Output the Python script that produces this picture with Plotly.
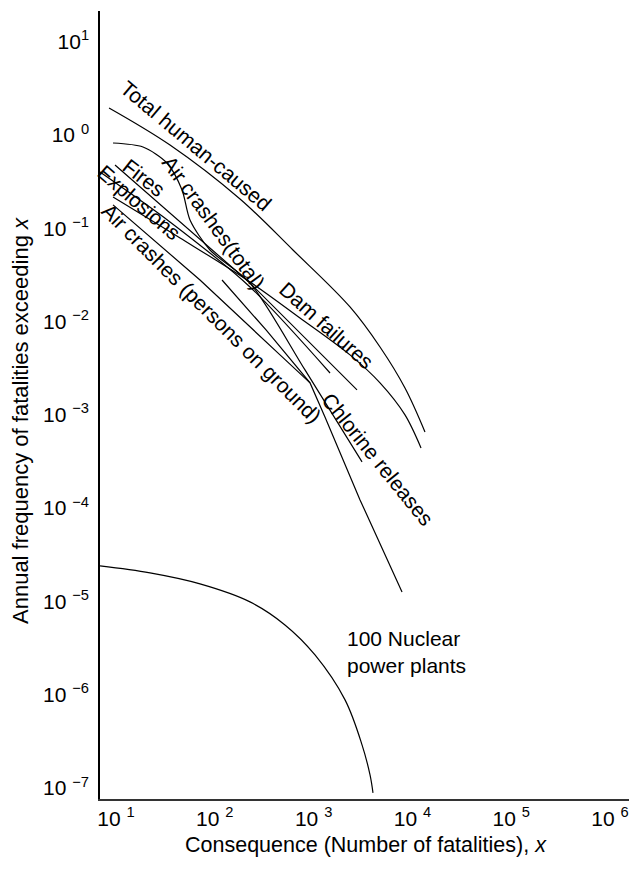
import plotly.graph_objects as go

# ---------------- data ----------------
total_x = [8.5, 35.2, 180, 618, 2335, 4700, 8410, 13400]
total_y = [1.95, 0.781, 0.206, 0.0585, 0.01435, 0.00534, 0.00194, 0.000656]

air_total_x = [9.33, 18.75, 32.8, 46.6, 56.1, 89.4, 227, 818, 3090]
air_total_y = [0.82, 0.743, 0.501, 0.257, 0.1227, 0.0585, 0.0259, 0.00303, 0.000313]

fires_x = [9.77, 227, 2750]
fires_y = [0.477, 0.0259, 0.00185]

explosions_x = [6.89, 35.2, 227, 1466]
explosions_y = [0.401, 0.117, 0.0235, 0.00281]

dam_x = [9.33, 44.5, 227, 728, 2335, 4700, 8410, 12220]
dam_y = [0.2165, 0.0787, 0.0266, 0.01093, 0.00439, 0.0022, 0.000998, 0.000442]

ground_x = [9.33, 70.8, 457, 920]
ground_y = [0.178, 0.0279, 0.00439, 0.0022]

chlorine_x = [118.3, 330, 920, 1303, 2950, 7850]
chlorine_y = [0.0279, 0.00813, 0.0022, 0.00095, 0.0001225, 1.265e-5]

nuclear_x = [6.89, 22.1, 70.8, 227, 513, 1033, 2080, 3090, 3724, 3990]
nuclear_y = [2.4e-5, 2.02e-5, 1.54e-5, 9.88e-6, 5.6e-6, 2.67e-6, 8.8e-7, 2.9e-7, 1.38e-7, 8.87e-8]

x_tickvals = [1e1, 1e2, 1e3, 1e4, 1e5, 1e6]
x_ticktext = ["10 <sup>1</sup>", "10 <sup>2</sup>", "10 <sup>3</sup>",
              "10 <sup>4</sup>", "10 <sup>5</sup>", "10 <sup>6</sup>"]
y_tickvals = [1e1, 1e0, 1e-1, 1e-2, 1e-3, 1e-4, 1e-5, 1e-6, 1e-7]
y_ticktext = ["10<sup>1</sup>", "10 <sup>0</sup>", "10 <sup>\u22121</sup>",
              "10 <sup>\u22122</sup>", "10 <sup>\u22123</sup>", "10 <sup>\u22124</sup>",
              "10 <sup>\u22125</sup>", "10 <sup>\u22126</sup>", "10 <sup>\u22127</sup>"]

series = [
    ("Total human-caused", total_x, total_y, "spline", 1.0),
    ("Air crashes (total)", air_total_x, air_total_y, "spline", 0.8),
    ("Fires", fires_x, fires_y, "linear", 0),
    ("Explosions", explosions_x, explosions_y, "spline", 0.8),
    ("Dam failures", dam_x, dam_y, "spline", 0.9),
    ("Air crashes (persons on ground)", ground_x, ground_y, "linear", 0),
    ("Chlorine releases", chlorine_x, chlorine_y, "linear", 0),
    ("100 Nuclear power plants", nuclear_x, nuclear_y, "spline", 1.0),
]

# ---------------- layout geometry ----------------
W, H = 629, 870
L, R, T, B = 100, 0, 11, 71
PW, PH = W - L - R, H - T - B


def paper(px, py):
    return (px - L) / PW, (H - B - py) / PH


fig = go.Figure()
for name, xs, ys, shape, sm in series:
    line = dict(color="black", width=1.2, shape=shape)
    if shape == "spline":
        line["smoothing"] = sm
    fig.add_trace(go.Scatter(x=xs, y=ys, mode="lines", name=name, line=line))

FONT = "Liberation Sans, Arial, Helvetica, sans-serif"

labels = [
    ("Total human-caused", 196, 145, 40),
    ("Air crashes(total)", 214, 222, 54),
    ("Fires", 144, 177, 38),
    ("Explosions", 139, 203, 41),
    ("Air crashes (persons on ground)", 212, 313, 45),
    ("Dam failures", 327, 325, 42),
    ("Chlorine releases", 377, 459, 51),
]
annotations = []
for text, px, py, ang in labels:
    ax, ay = paper(px, py)
    annotations.append(dict(text=text, x=ax, y=ay, xref="paper", yref="paper",
                            textangle=ang, showarrow=False, xanchor="center", yanchor="middle",
                            font=dict(size=21, color="black", family=FONT)))

nx, ny = paper(345, 652)
annotations.append(dict(text="100 Nuclear<br>power plants", x=nx, y=ny, xref="paper", yref="paper",
                        showarrow=False, xanchor="left", yanchor="middle", align="left",
                        font=dict(size=21, color="black", family=FONT)))

tx, ty = paper(366, 845)
annotations.append(dict(text="Consequence (Number of fatalities), <i>x</i>", x=tx, y=ty,
                        xref="paper", yref="paper", showarrow=False, xanchor="center", yanchor="middle",
                        font=dict(size=21.5, color="black", family=FONT)))
yx, yy = paper(20, 421)
annotations.append(dict(text="Annual frequency of fatalities exceeding <i>x</i>", x=yx, y=yy,
                        xref="paper", yref="paper", showarrow=False, textangle=-90,
                        xanchor="center", yanchor="middle",
                        font=dict(size=22, color="black", family=FONT)))

fig.update_layout(
    width=W, height=H,
    margin=dict(l=L, r=R, t=T, b=B, pad=0),
    paper_bgcolor="white", plot_bgcolor="white",
    showlegend=False,
    font=dict(family=FONT, size=21, color="black"),
    annotations=annotations,
    xaxis=dict(type="log", range=[0.838, 6.192], tickvals=x_tickvals, ticktext=x_ticktext,
               showgrid=False, zeroline=False, showline=True, linecolor="#333333", linewidth=2,
               ticks="", ticklabelstandoff=0, tickfont=dict(size=21, family=FONT, color="black")),
    yaxis=dict(type="log", range=[-7.118, 1.329], tickvals=y_tickvals, ticktext=y_ticktext,
               showgrid=False, zeroline=False, showline=True, linecolor="black", linewidth=1.5,
               ticks="", ticklabelstandoff=5, tickfont=dict(size=21, family=FONT, color="black")),
)

fig.write_html("out.html")
